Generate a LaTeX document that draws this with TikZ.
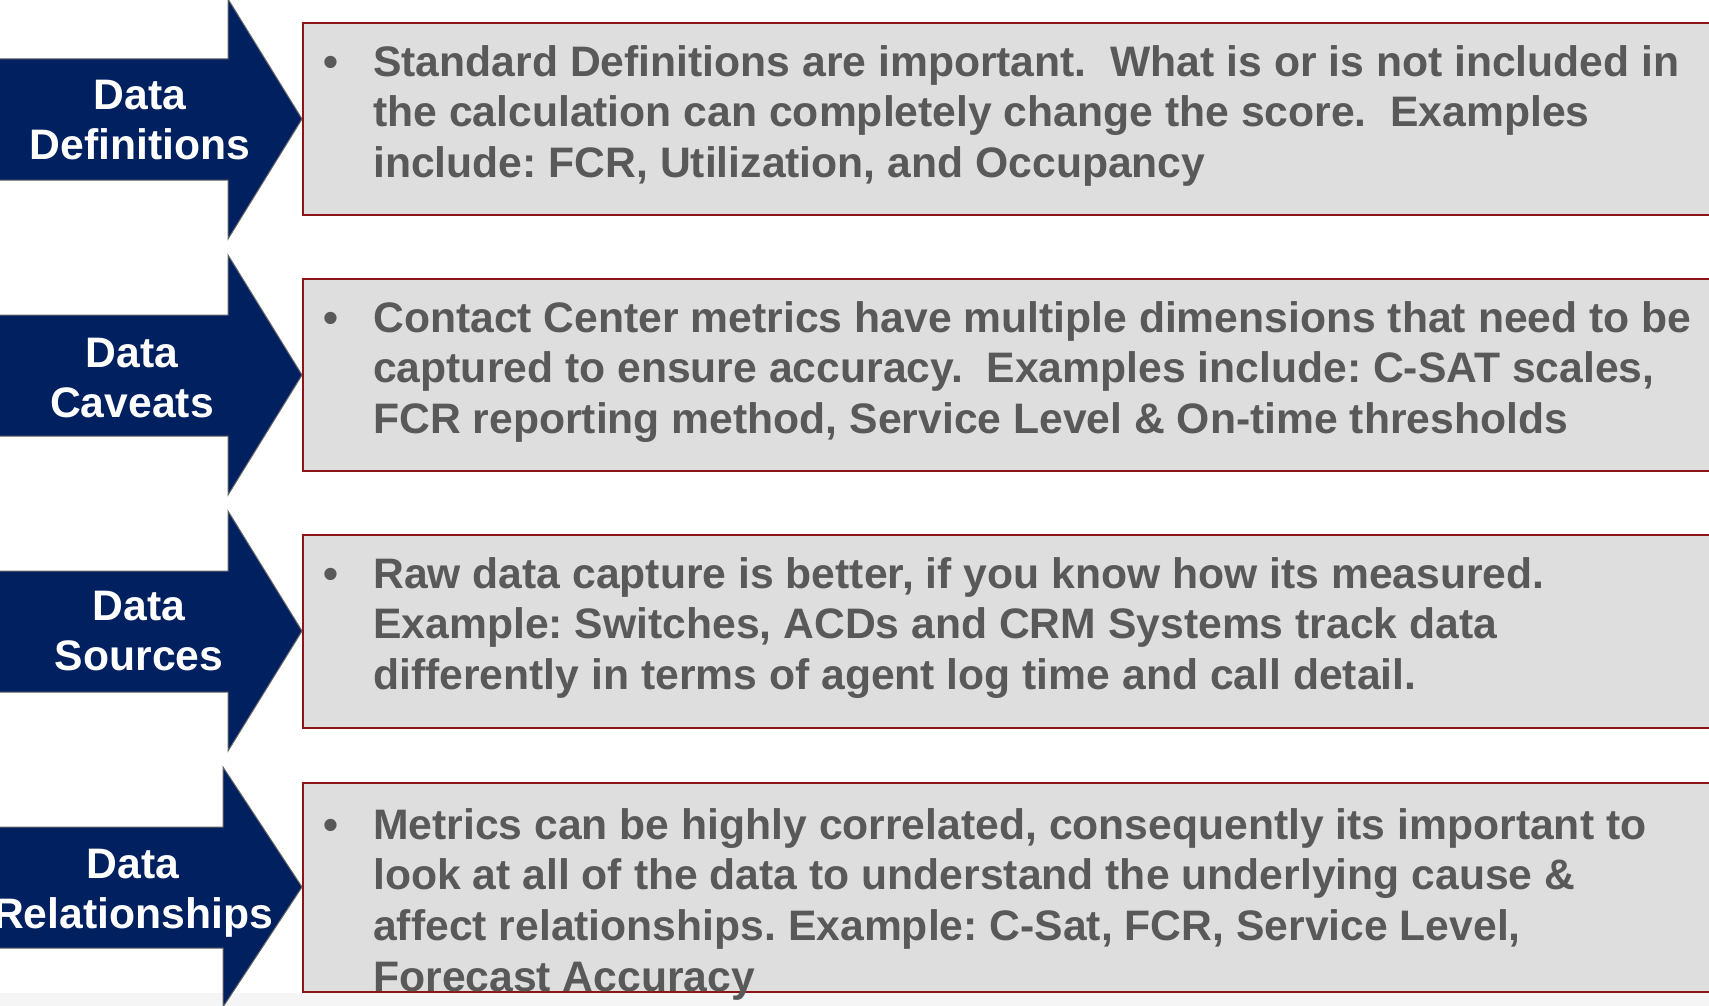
\documentclass[tikz,border=0pt]{standalone}
\usepackage{fontspec}
\setmainfont{Liberation Sans}
\usepackage{xcolor}
\usepackage{tikz}
\frenchspacing

\definecolor{navy}{RGB}{0,32,96}
\definecolor{boxred}{RGB}{140,22,22}
\definecolor{boxgray}{RGB}{222,222,222}
\definecolor{txtgray}{RGB}{89,89,89}

\begin{document}
\begin{tikzpicture}[x=0.75pt, y=-0.75pt,
  arrowbody/.style={fill=navy, draw=black!60, line width=0.75pt},
  notebox/.style={fill=boxgray, draw=boxred, line width=1.5pt},
  arrowlabel/.style={anchor=base, inner sep=0, text=white,
    font=\bfseries\fontsize{32}{38}\selectfont},
  bulletmark/.style={anchor=base west, inner sep=0, text=txtgray,
    font=\bfseries\fontsize{32}{38}\selectfont},
  notetext/.style={anchor=base west, inner sep=0, text=txtgray,
    font=\bfseries\fontsize{32}{38}\selectfont}]

  \useasboundingbox (0,0) rectangle (1709,1006);
  \clip (0,0) rectangle (1709,1006);
  \fill[black!4] (0,993) rectangle (1709,1006);

  % Arrows
  \draw[arrowbody] (-10,59) -- (228,59) -- (228,-1) -- (302,119) -- (228,239) -- (228,180) -- (-10,180) -- cycle;
  \draw[arrowbody] (-10,315) -- (228,315) -- (228,255) -- (302,375) -- (228,495) -- (228,436) -- (-10,436) -- cycle;
  \draw[arrowbody] (-10,571) -- (228,571) -- (228,511) -- (302,631) -- (228,751) -- (228,692) -- (-10,692) -- cycle;
  \draw[arrowbody] (-10,827) -- (223,827) -- (223,767) -- (302,887) -- (223,1007) -- (223,948) -- (-10,948) -- cycle;

  \node[arrowlabel] (defs) at (140,109) {\parbox[t]{300pt}{\centering Data\\Definitions}};
  \node[arrowlabel] (caveats) at (132,367) {\parbox[t]{300pt}{\centering Data\\Caveats}};
  \node[arrowlabel] (sources) at (139,620) {\parbox[t]{300pt}{\centering Data\\Sources}};
  \node[arrowlabel] (relations) at (133,878) {\parbox[t]{300pt}{\centering Data\\Relationships}};

  % Boxes
  \draw[notebox] (303,23) rectangle (1720,215);
  \draw[notebox] (303,279) rectangle (1720,471);
  \draw[notebox] (303,535) rectangle (1720,728);
  \draw[notebox] (303,783) rectangle (1720,992);

  % Box texts
  \node[bulletmark] (b1) at (323,76) {\textbullet};
  \node[notetext] (t1) at (373,76) {\parbox[t]{1100pt}{Standard Definitions are important.\ \ What is or is not included in\\
    the calculation can completely change the score.\ \ Examples\\
    include: FCR, Utilization, and Occupancy}};

  \node[bulletmark] (b2) at (323,332) {\textbullet};
  \node[notetext] (t2) at (373,332) {\parbox[t]{1100pt}{Contact Center metrics have multiple dimensions that need to be\\
    captured to ensure accuracy.\ \ Examples include: C-SAT scales,\\
    FCR reporting method, Service Level \& On-time thresholds}};

  \node[bulletmark] (b3) at (323,588) {\textbullet};
  \node[notetext] (t3) at (373,588) {\parbox[t]{1100pt}{Raw data capture is better, if you know how its measured.\\
    Example: Switches, ACDs and CRM Systems track data\\
    differently in terms of agent log time and call detail.}};

  \node[bulletmark] (b4) at (323,839) {\textbullet};
  \node[notetext] (t4) at (373,839) {\parbox[t]{1100pt}{Metrics can be highly correlated, consequently its important to\\
    look at all of the data to understand the underlying cause \&\\
    affect relationships. Example: C-Sat, FCR, Service Level,\\
    Forecast Accuracy}};
\end{tikzpicture}
\end{document}
